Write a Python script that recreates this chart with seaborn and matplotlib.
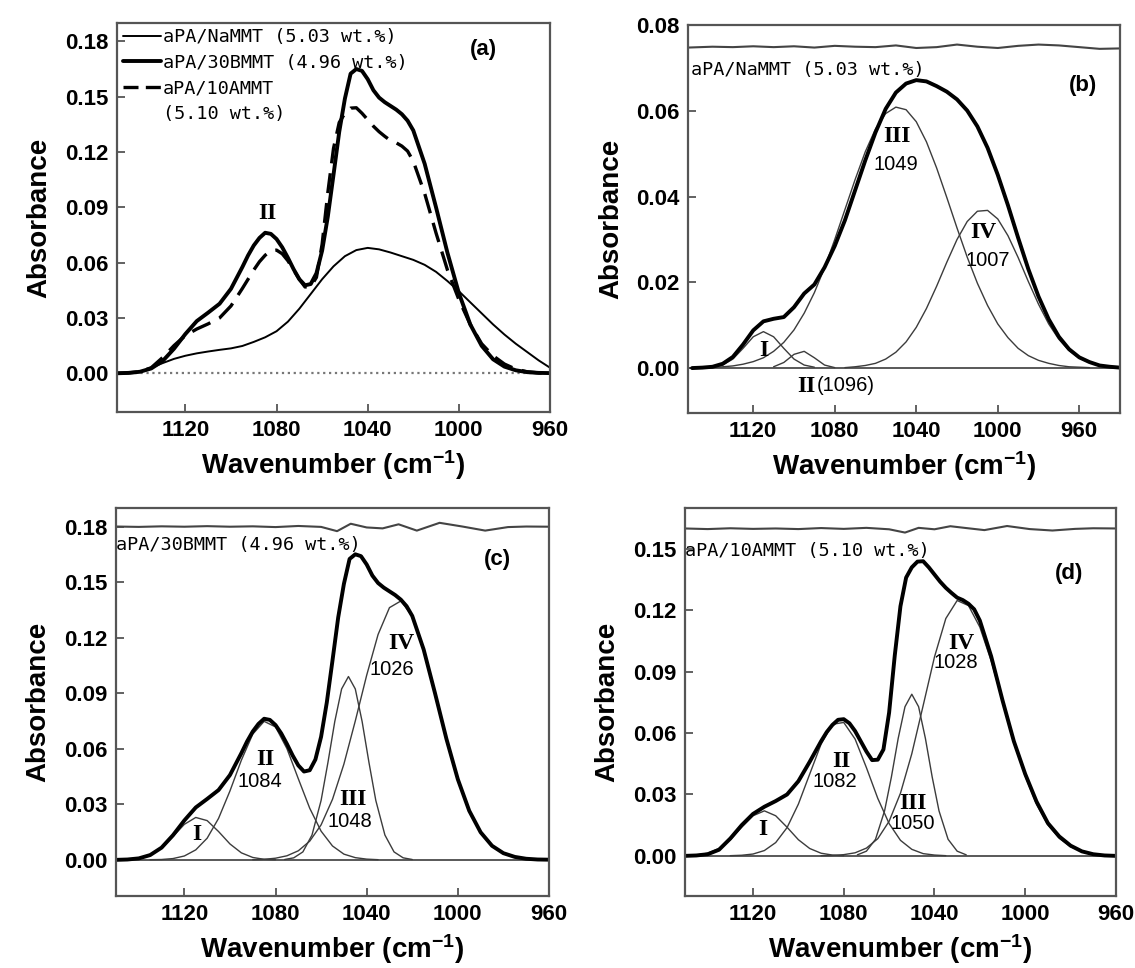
import numpy as np
import matplotlib
matplotlib.use("Agg")
import matplotlib.pyplot as plt
import seaborn as sns
from matplotlib.lines import Line2D
from matplotlib.ticker import FormatStrFormatter, MultipleLocator

# NaMMT spectrum on a 5 cm-1 grid, 1150 -> 940 (panel b)
wavenumber = np.arange(1150, 935, -5)
nammt = [0.0000, 0.0001, 0.0003, 0.0010, 0.0026, 0.0055, 0.0088, 0.0109, 0.0115, 0.0119,
         0.0142, 0.0174, 0.0195, 0.0235, 0.0285, 0.0345, 0.0415, 0.0485, 0.0550, 0.0605,
         0.0643, 0.0664, 0.0672, 0.0669, 0.0658, 0.0645, 0.0627, 0.0601, 0.0564, 0.0514,
         0.0451, 0.0380, 0.0304, 0.0231, 0.0167, 0.0114, 0.0073, 0.0044, 0.0025, 0.0014,
         0.0006, 0.0003, 0.0001]

# NaMMT trace as drawn in panel a, 1150 -> 960
nammt_a_x = np.arange(1150, 955, -5)
nammt_a = [0.0000, 0.0002, 0.0008, 0.0030, 0.0055, 0.0078, 0.0095, 0.0108, 0.0118, 0.0127,
           0.0135, 0.0148, 0.0170, 0.0195, 0.0228, 0.0280, 0.0350, 0.0430, 0.0510, 0.0580,
           0.0635, 0.0668, 0.0680, 0.0672, 0.0655, 0.0635, 0.0615, 0.0588, 0.0550, 0.0500,
           0.0445, 0.0385, 0.0325, 0.0265, 0.0210, 0.0160, 0.0115, 0.0070, 0.0030]

# 30BMMT and 10AMMT spectra, denser sampling around the main band
clay_x = [1150, 1145, 1140, 1135, 1130, 1125, 1120, 1115, 1110, 1105, 1100, 1095, 1092.5, 1090,
          1087.5, 1085, 1082.5, 1080, 1077.5, 1075, 1072.5, 1070, 1067.5, 1065, 1062.5, 1060,
          1057.5, 1055, 1052.5, 1050, 1047.5, 1045, 1042.5, 1040, 1037.5, 1035, 1032.5, 1030,
          1027.5, 1025, 1022.5, 1020, 1015, 1010, 1005, 1000, 995, 990, 985, 980, 975, 970,
          965, 960]
bmmt30 = [0.0000, 0.0002, 0.0008, 0.0026, 0.0066, 0.0133, 0.0213, 0.0283, 0.0329, 0.0377,
          0.0458, 0.0576, 0.0639, 0.0693, 0.0734, 0.0762, 0.0756, 0.0728, 0.0683, 0.0626,
          0.0564, 0.0510, 0.0477, 0.0484, 0.0542, 0.0665, 0.0850, 0.1077, 0.1309, 0.1490,
          0.1625, 0.1650, 0.1640, 0.1595, 0.1535, 0.1495, 0.1470, 0.1450, 0.1430, 0.1405,
          0.1370, 0.1317, 0.1136, 0.0899, 0.0653, 0.0435, 0.0265, 0.0149, 0.0076, 0.0036,
          0.0016, 0.0006, 0.0002, 0.0001]
ammt10 = [0.0000, 0.0002, 0.0008, 0.0030, 0.0085, 0.0150, 0.0205, 0.0240, 0.0268, 0.0300,
          0.0365, 0.0460, 0.0510, 0.0560, 0.0605, 0.0640, 0.0665, 0.0668, 0.0648, 0.0610,
          0.0560, 0.0510, 0.0468, 0.0470, 0.0520, 0.0700, 0.0980, 0.1220, 0.1360, 0.1410,
          0.1438, 0.1440, 0.1410, 0.1375, 0.1340, 0.1310, 0.1285, 0.1262, 0.1250, 0.1232,
          0.1205, 0.1150, 0.0975, 0.0760, 0.0560, 0.0400, 0.0265, 0.0160, 0.0095, 0.0050,
          0.0022, 0.0008, 0.0002, 0.0000]

# fitted components: (first wavenumber, values every 5 cm-1)
b_I = (1140, [0.0002, 0.0007, 0.0021, 0.0046, 0.0073, 0.0085, 0.0073, 0.0046, 0.0021, 0.0007, 0.0002])
b_II = (1110, [0.0003, 0.0013, 0.0032, 0.0039, 0.0024, 0.0007, 0.0001])
b_III = (1145, [0.0001, 0.0001, 0.0003, 0.0005, 0.0009, 0.0015, 0.0024, 0.0039, 0.0060, 0.0089,
                0.0128, 0.0176, 0.0234, 0.0300, 0.0370, 0.0440, 0.0505, 0.0558, 0.0594, 0.0609,
                0.0603, 0.0575, 0.0528, 0.0467, 0.0398, 0.0327, 0.0259, 0.0198, 0.0146, 0.0103,
                0.0071, 0.0046, 0.0029, 0.0018, 0.0011, 0.0006, 0.0003, 0.0002, 0.0001])
b_IV = (1075, [0.0001, 0.0003, 0.0006, 0.0011, 0.0021, 0.0037, 0.0061, 0.0095, 0.0139, 0.0191,
               0.0247, 0.0300, 0.0342, 0.0366, 0.0368, 0.0348, 0.0309, 0.0258, 0.0202, 0.0149,
               0.0103, 0.0067, 0.0041, 0.0023, 0.0013, 0.0006, 0.0003, 0.0001])

c_I = (1145, [0.0002, 0.0008, 0.0025, 0.0064, 0.0126, 0.0192, 0.0229, 0.0212, 0.0153, 0.0086,
              0.0038, 0.0013, 0.0003, 0.0001])
c_II = (1135, [0.0001, 0.0002, 0.0007, 0.0021, 0.0054, 0.0117, 0.0224, 0.0372, 0.0538, 0.0679,
               0.0748, 0.0718, 0.0601, 0.0438, 0.0279, 0.0155, 0.0075, 0.0031, 0.0012, 0.0004, 0.0001])
c_III_x = [1076, 1072, 1068, 1064, 1060, 1057, 1054, 1051, 1048, 1045, 1042, 1039, 1036, 1032, 1028, 1024, 1020]
c_III_y = [0.0002, 0.0011, 0.0043, 0.0134, 0.0321, 0.0526, 0.0747, 0.0923, 0.0990, 0.0923,
           0.0747, 0.0526, 0.0321, 0.0134, 0.0043, 0.0011, 0.0002]
c_IV = (1090, [0.0001, 0.0003, 0.0009, 0.0022, 0.0049, 0.0101, 0.0189, 0.0327, 0.0517, 0.0750,
               0.0997, 0.1217, 0.1362, 0.1398, 0.1315, 0.1136, 0.0899, 0.0653, 0.0435, 0.0265,
               0.0149, 0.0076, 0.0036, 0.0016, 0.0006, 0.0002, 0.0001])

d_I = (1150, [0.0001, 0.0004, 0.0013, 0.0036, 0.0079, 0.0140, 0.0196, 0.0220, 0.0196, 0.0140,
              0.0079, 0.0036, 0.0013, 0.0004, 0.0001])
d_II = (1130, [0.0001, 0.0003, 0.0009, 0.0026, 0.0065, 0.0138, 0.0253, 0.0400, 0.0546, 0.0643,
               0.0652, 0.0571, 0.0431, 0.0281, 0.0158, 0.0076, 0.0032, 0.0011, 0.0004, 0.0001])
d_III_x = [1074, 1070, 1066, 1062, 1059, 1056, 1053, 1050, 1047, 1044, 1041, 1038, 1034, 1030, 1026]
d_III_y = [0.0005, 0.0023, 0.0081, 0.0220, 0.0385, 0.0574, 0.0729, 0.0790, 0.0729, 0.0574,
           0.0385, 0.0220, 0.0081, 0.0023, 0.0005]
d_IV = (1090, [0.0001, 0.0002, 0.0006, 0.0015, 0.0038, 0.0084, 0.0169, 0.0306, 0.0499, 0.0734,
               0.0972, 0.1160, 0.1248, 0.1223, 0.1118, 0.0953, 0.0758, 0.0563, 0.0390, 0.0252,
               0.0152, 0.0086, 0.0045, 0.0022, 0.0010, 0.0004, 0.0002])

# fit residuals (offset) drawn at the top of b, c, d
b_res_x = [1152, 1140, 1130, 1120, 1110, 1100, 1090, 1080, 1070, 1060, 1050, 1040, 1030, 1020,
           1010, 1000, 990, 980, 970, 960, 950, 940]
b_res_y = [0.0748, 0.0750, 0.0749, 0.0751, 0.0749, 0.0751, 0.0748, 0.0752, 0.0750, 0.0749,
           0.0753, 0.0747, 0.0749, 0.0755, 0.0750, 0.0747, 0.0752, 0.0755, 0.0753, 0.0749,
           0.0745, 0.0746]
c_res_x = [1150, 1140, 1130, 1120, 1110, 1100, 1090, 1080, 1070, 1060, 1053, 1047, 1040, 1033,
           1026, 1018, 1008, 998, 988, 978, 970, 960]
c_res_y = [0.1800, 0.1798, 0.1801, 0.1799, 0.1802, 0.1799, 0.1801, 0.1797, 0.1803, 0.1798,
           0.1775, 0.1815, 0.1795, 0.1790, 0.1812, 0.1778, 0.1820, 0.1800, 0.1778, 0.1797,
           0.1800, 0.1799]
d_res_x = c_res_x
d_res_y = [0.1600, 0.1597, 0.1601, 0.1598, 0.1600, 0.1597, 0.1602, 0.1598, 0.1603, 0.1596,
           0.1580, 0.1603, 0.1596, 0.1611, 0.1602, 0.1592, 0.1612, 0.1597, 0.1590, 0.1598,
           0.1601, 0.1600]

sample_names = ["aPA/NaMMT (5.03 wt.%)", "aPA/30BMMT (4.96 wt.%)", "aPA/10AMMT (5.10 wt.%)"]

sns.set_theme(style="ticks")
plt.rcParams["font.family"] = ["Liberation Sans", "DejaVu Sans"]
plt.rcParams["mathtext.fontset"] = "custom"
plt.rcParams["mathtext.rm"] = "Liberation Sans:bold"
plt.rcParams["mathtext.default"] = "rm"
plt.rcParams["text.color"] = "black"
plt.rcParams["axes.labelcolor"] = "black"

FRAME = "#555555"
COMP = "#3c3c3c"
MONO = dict(family="DejaVu Sans Mono", size=13.3)
ROMAN = dict(family="Liberation Serif", weight="bold", size=17)
NUM = dict(family="Liberation Sans", size=14.5)
PANEL = dict(fontsize=16, fontweight="bold")
THICK = dict(color="black", linewidth=2.8, solid_joinstyle="round", solid_capstyle="round")


def line(ax, x, y, **kw):
    sns.lineplot(x=x, y=y, ax=ax, estimator=None, sort=False, legend=False, **kw)


def comp(ax, part):
    start, vals = part
    x = start - 5 * np.arange(len(vals))
    line(ax, x, vals, color=COMP, linewidth=1.0)


def style(ax, xlim, ylim, ystep):
    ax.set_xlim(*xlim)
    ax.set_ylim(*ylim)
    ax.xaxis.set_major_locator(MultipleLocator(40))
    ax.yaxis.set_major_locator(MultipleLocator(ystep))
    ax.yaxis.set_major_formatter(FormatStrFormatter("%.2f"))
    ax.tick_params(direction="in", length=6, width=1.3, color=FRAME, labelcolor="black",
                   labelsize=16, pad=6)
    for lab in ax.get_xticklabels() + ax.get_yticklabels():
        lab.set_fontweight("bold")
    for sp in ax.spines.values():
        sp.set_color(FRAME)
        sp.set_linewidth(1.6)
    ax.set_xlabel(r"Wavenumber (cm$^{-1}$)", fontsize=20, fontweight="bold", labelpad=5)
    ax.set_ylabel("Absorbance", fontsize=20, fontweight="bold", labelpad=9)


fig = plt.figure(figsize=(11.35, 9.68), dpi=100)
ax_a = fig.add_axes([0.1031, 0.5744, 0.3815, 0.4019])
ax_b = fig.add_axes([0.6062, 0.5733, 0.3806, 0.4008])
ax_c = fig.add_axes([0.1022, 0.0744, 0.3815, 0.4008])
ax_d = fig.add_axes([0.6035, 0.0744, 0.3797, 0.4008])

# (a) the three spectra together
ax_a.axhline(0, color="#777777", linestyle=":", linewidth=1.6)
line(ax_a, nammt_a_x, nammt_a, color="black", linewidth=1.4)
line(ax_a, clay_x, ammt10, color="black", linewidth=2.4, linestyle=(0, (6, 3)))
line(ax_a, clay_x, bmmt30, **THICK)
handles = [Line2D([], [], color="black", linewidth=1.4),
           Line2D([], [], color="black", linewidth=2.8),
           Line2D([], [], color="black", linewidth=2.4, linestyle=(0, (4.5, 2.2))),
           Line2D([], [], linestyle="none")]
labels = [sample_names[0], sample_names[1], "aPA/10AMMT", "(5.10 wt.%)"]
ax_a.legend(handles, labels, loc="upper left", bbox_to_anchor=(0, 1), frameon=False,
            prop=MONO, handlelength=2.1, handletextpad=0.1, labelspacing=0.4,
            borderaxespad=0.15, borderpad=0.15)
ax_a.text(1084, 0.0869, "II", ha="center", va="center", **ROMAN)
ax_a.text(989, 0.1755, "(a)", ha="center", va="center", **PANEL)
style(ax_a, (1150, 960), (-0.021, 0.19), 0.03)

# (b) NaMMT deconvolution
ax_b.axhline(0, color=COMP, linewidth=1.2)
for part in (b_I, b_II, b_III, b_IV):
    comp(ax_b, part)
line(ax_b, wavenumber, nammt, **THICK)
line(ax_b, b_res_x, b_res_y, color="#444444", linewidth=1.5)
ax_b.text(1150.5, 0.0695, sample_names[0], ha="left", va="center", **MONO)
ax_b.text(958, 0.066, "(b)", ha="center", va="center", **PANEL)
ax_b.text(1114.7, 0.0042, "I", ha="center", va="center", **ROMAN)
ax_b.text(1094, -0.0042, "II", ha="center", va="center", **ROMAN)
ax_b.text(1089, -0.0040, "(1096)", ha="left", va="center", **NUM)
ax_b.text(1049.5, 0.0540, "III", ha="center", va="center", **ROMAN)
ax_b.text(1050, 0.0475, "1049", ha="center", va="center", **NUM)
ax_b.text(1007, 0.0317, "IV", ha="center", va="center", **ROMAN)
ax_b.text(1005, 0.0250, "1007", ha="center", va="center", **NUM)
style(ax_b, (1152, 940), (-0.0105, 0.08005), 0.02)

# (c) 30BMMT deconvolution
ax_c.axhline(0, color=COMP, linewidth=1.2)
for part in (c_I, c_II, c_IV):
    comp(ax_c, part)
line(ax_c, c_III_x, c_III_y, color=COMP, linewidth=1.0)
line(ax_c, clay_x, bmmt30, **THICK)
line(ax_c, c_res_x, c_res_y, color="#444444", linewidth=1.5)
ax_c.text(1150, 0.170, sample_names[1], ha="left", va="center", **MONO)
ax_c.text(982.7, 0.162, "(c)", ha="center", va="center", **PANEL)
ax_c.text(1114.7, 0.0135, "I", ha="center", va="center", **ROMAN)
ax_c.text(1084.3, 0.0540, "II", ha="center", va="center", **ROMAN)
ax_c.text(1086.7, 0.0423, "1084", ha="center", va="center", **NUM)
ax_c.text(1046, 0.0324, "III", ha="center", va="center", **ROMAN)
ax_c.text(1047.5, 0.0207, "1048", ha="center", va="center", **NUM)
ax_c.text(1025, 0.117, "IV", ha="center", va="center", **ROMAN)
ax_c.text(1029, 0.1026, "1026", ha="center", va="center", **NUM)
style(ax_c, (1150, 960), (-0.0195, 0.19), 0.03)

# (d) 10AMMT deconvolution
ax_d.axhline(0, color=COMP, linewidth=1.2)
for part in (d_I, d_II, d_IV):
    comp(ax_d, part)
line(ax_d, d_III_x, d_III_y, color=COMP, linewidth=1.0)
line(ax_d, clay_x, ammt10, **THICK)
line(ax_d, d_res_x, d_res_y, color="#444444", linewidth=1.5)
ax_d.text(1150, 0.149, sample_names[2], ha="left", va="center", **MONO)
ax_d.text(980.7, 0.1378, "(d)", ha="center", va="center", **PANEL)
ax_d.text(1115.6, 0.0128, "I", ha="center", va="center", **ROMAN)
ax_d.text(1081, 0.0463, "II", ha="center", va="center", **ROMAN)
ax_d.text(1084, 0.0365, "1082", ha="center", va="center", **NUM)
ax_d.text(1049.5, 0.0258, "III", ha="center", va="center", **ROMAN)
ax_d.text(1049.5, 0.0160, "1050", ha="center", va="center", **NUM)
ax_d.text(1028, 0.104, "IV", ha="center", va="center", **ROMAN)
ax_d.text(1030.5, 0.0945, "1028", ha="center", va="center", **NUM)
style(ax_d, (1150, 960), (-0.0196, 0.17), 0.03)

fig.savefig("out.png", dpi=100, facecolor="white")
